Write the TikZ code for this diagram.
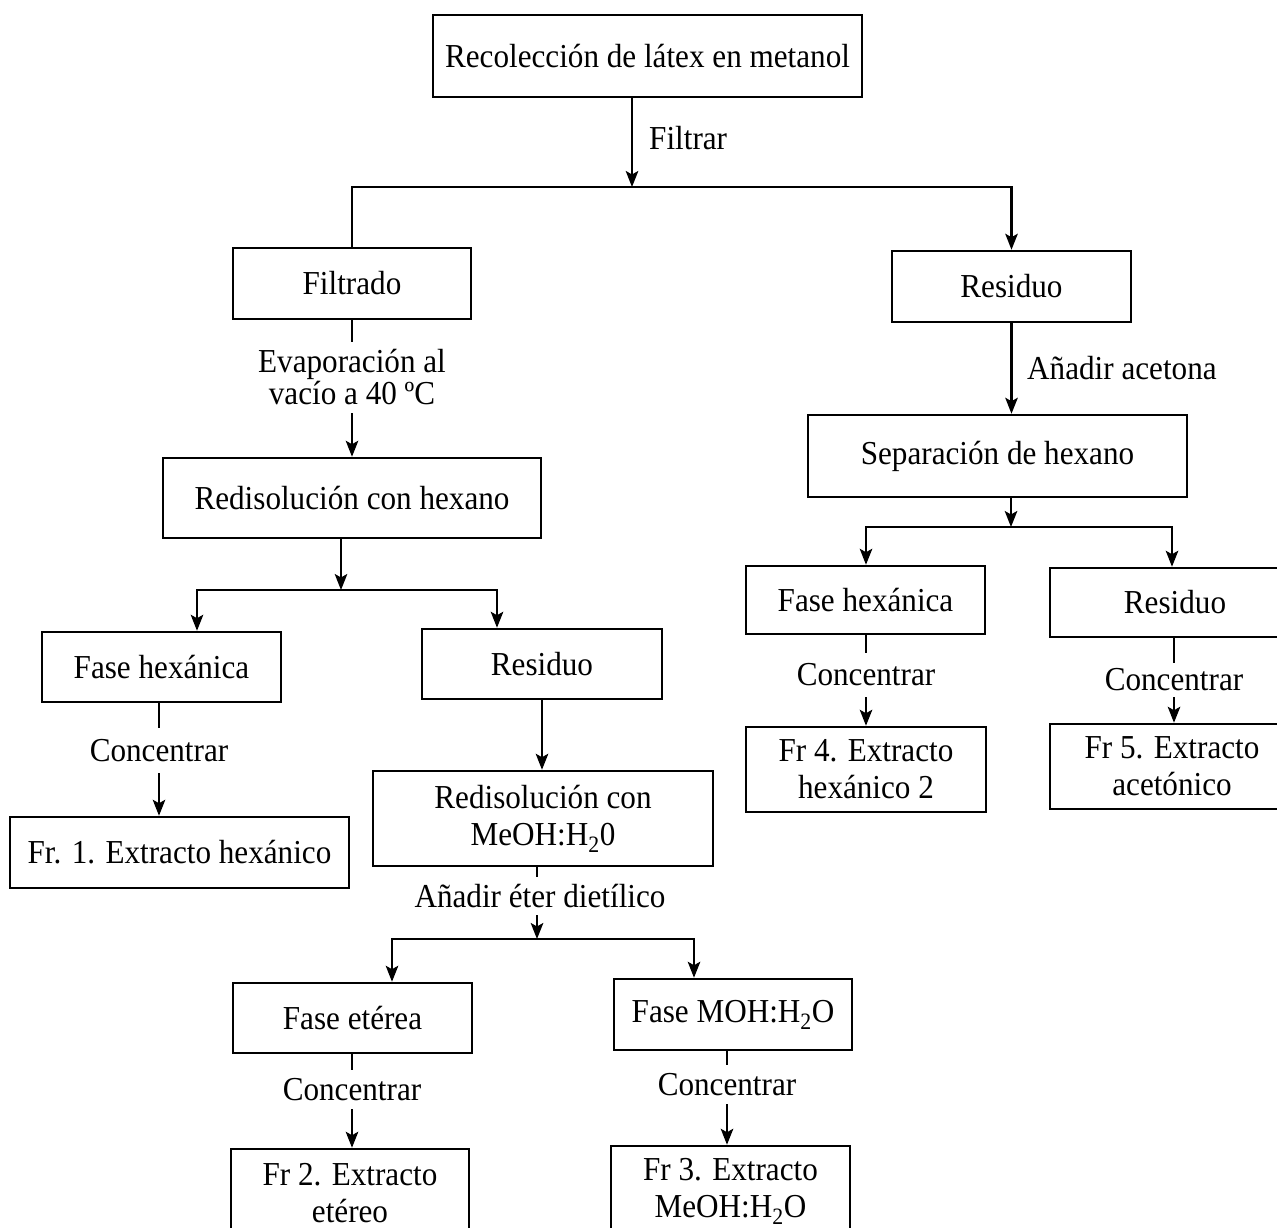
\documentclass[tikz,border=0pt]{standalone}
\usepackage{fontspec}
\setmainfont{Liberation Serif}[FakeStretch=0.93]
\usetikzlibrary{arrows.meta}
\begin{document}
\begin{tikzpicture}[x=1pt,y=-1pt,
  every node/.style={font=\fontsize{33.5}{37}\selectfont, inner sep=0pt, align=center},
  bx/.style 2 args={draw, line width=2.5pt, minimum width=#1, minimum height=#2},
  lbl/.style={minimum height=#1},
  ln/.style={line width=2.2pt},
  arr/.style={line width=2.2pt, -{Stealth[length=16pt,width=12.5pt,inset=3.5pt]}},
  arrtwo/.style={line width=2.2pt, {Stealth[length=16pt,width=12.5pt,inset=3.5pt]}-{Stealth[length=16pt,width=12.5pt,inset=3.5pt]}}
]
\path[use as bounding box] (0,0) rectangle (1277,1227);
\fill[white] (0,0) rectangle (1277,1227);
\clip (0,0) rectangle (1277,1227);

% coordinates of junctions
\coordinate (j1) at (632,187);
\coordinate (j2) at (341,590);
\coordinate (j2l) at (197,590);
\coordinate (j2r) at (497,590);
\coordinate (j3) at (1011,527);
\coordinate (j3l) at (866,527);
\coordinate (j3r) at (1172,527);
\coordinate (j5) at (537,939);
\coordinate (j5l) at (392,939);
\coordinate (j5r) at (694,939);

% nodes
\node[bx={429pt}{82pt}] (rec) at (647.5,56) {Recolección de látex en metanol};
\node[anchor=base west] (filtrar) at (649,149) {Filtrar};
\node[bx={238pt}{71pt}] (filtrado) at (352,283.5) {Filtrado};
\node[bx={239pt}{71pt}] (res1) at (1011.5,286.5) {Residuo};
\node[lbl=71pt] (evap) at (352,377.5) {Evaporación al\\[-5pt]vacío a 40 ºC};
\node[bx={378pt}{80pt}] (redhex) at (352,498) {Redisolución con hexano};
\node[anchor=base west] (acet) at (1027,379) {Añadir acetona};
\node[bx={379pt}{82pt}] (sep) at (997.5,456) {Separación de hexano};

\node[bx={239pt}{70pt}] (fhex1) at (161.5,667) {Fase hexánica};
\node[bx={240pt}{70pt}] (res2) at (542,664) {Residuo};
\node[lbl=45pt] (conc1) at (159,750.5) {Concentrar};
\node[bx={339pt}{71pt}] (fr1) at (179.5,852.5) {Fr. 1. Extracto hexánico};
\node[bx={340pt}{95pt}] (meoh) at (543,818.5) {Redisolución con\\MeOH:H\textsubscript{2}0};

\node[bx={239pt}{68pt}] (fhex2) at (865.5,600) {Fase hexánica};
\node[bx={250pt}{69pt}] (res3) at (1175,602.5) {Residuo};
\node[lbl=44pt] (conc4) at (866,675) {Concentrar};
\node[lbl=34pt] (conc5) at (1174,680) {Concentrar};
\node[bx={240pt}{85pt}] (fr4) at (866,769.5) {Fr 4. Extracto\\hexánico 2};
\node[bx={244pt}{85pt}] (fr5) at (1172,766.5) {Fr 5. Extracto\\acetónico};

\node[lbl=38pt] (aeter) at (540,896) {Añadir éter dietílico};
\node[bx={239pt}{70pt}] (feter) at (352.5,1018) {Fase etérea};
\node[bx={238pt}{71pt}] (fmoh) at (733,1014.5) {Fase MOH:H\textsubscript{2}O};
\node[lbl=39pt] (conc2) at (352,1089.5) {Concentrar};
\node[lbl=39pt] (conc3) at (727,1084.5) {Concentrar};
\node[bx={238pt}{88pt}] (fr2) at (350,1193) {Fr 2. Extracto\\etéreo};
\node[bx={239pt}{91pt}] (fr3) at (730.5,1191.5) {Fr 3. Extracto\\MeOH:H\textsubscript{2}O};

% connectors
\draw[arr] (j1 |- rec.south) -- (j1);
\draw[arr] (filtrado.north) -- (filtrado.north |- j1) -- (res1.north |- j1) -- (res1.north);
\draw[ln] (filtrado.south) -- (evap.north);
\draw[arr] (evap.south) -- (redhex.north);
\draw[arr] (j2 |- redhex.south) -- (j2);
\draw[arrtwo] (j2l |- fhex1.north) -- (j2l) -- (j2r) -- (j2r |- res2.north);
\draw[ln] (conc1.north |- fhex1.south) -- (conc1.north);
\draw[arr] (conc1.south) -- (conc1.south |- fr1.north);
\draw[arr] (res2.south) -- (res2.south |- meoh.north);
\draw[ln] (j5 |- meoh.south) -- (j5 |- aeter.north);
\draw[arr] (j5 |- aeter.south) -- (j5);
\draw[arrtwo] (j5l |- feter.north) -- (j5l) -- (j5r) -- (j5r |- fmoh.north);
\draw[ln] (conc2.north |- feter.south) -- (conc2.north);
\draw[arr] (conc2.south) -- (conc2.south |- fr2.north);
\draw[ln] (conc3.north |- fmoh.south) -- (conc3.north);
\draw[arr] (conc3.south) -- (conc3.south |- fr3.north);
\draw[arr] (res1.south) -- (res1.south |- sep.north);
\draw[arr] (j3 |- sep.south) -- (j3);
\draw[arrtwo] (j3l |- fhex2.north) -- (j3l) -- (j3r) -- (j3r |- res3.north);
\draw[ln] (conc4.north |- fhex2.south) -- (conc4.north);
\draw[arr] (conc4.south) -- (conc4.south |- fr4.north);
\draw[ln] (conc5.north |- res3.south) -- (conc5.north);
\draw[arr] (conc5.south) -- (conc5.south |- fr5.north);
\end{tikzpicture}
\end{document}
